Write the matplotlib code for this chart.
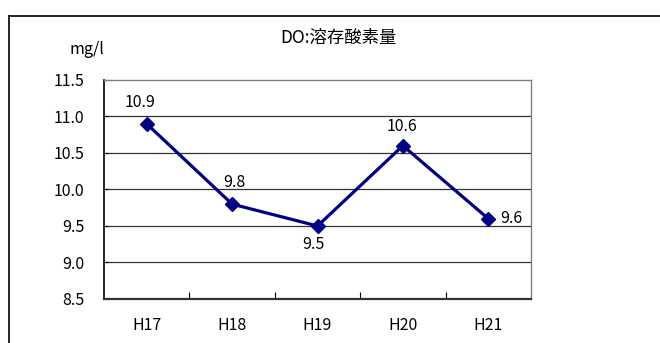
import matplotlib
matplotlib.use("Agg")
import matplotlib.pyplot as plt
from matplotlib.lines import Line2D
from matplotlib.ticker import FixedLocator

plt.rcParams['font.family'] = ['Noto Sans CJK JP', 'DejaVu Sans']

years = ["H17", "H18", "H19", "H20", "H21"]
do_values = [10.9, 9.8, 9.5, 10.6, 9.6]
y_ticks = [8.5, 9.0, 9.5, 10.0, 10.5, 11.0, 11.5]
title = "DO:溶存酸素量"
unit = "mg/l"

W, H = 660, 343
fig = plt.figure(figsize=(W / 100, H / 100), dpi=100)

# outer chart frame (top and left edges visible)
fig.add_artist(Line2D([8.5 / W, 8.5 / W], [0, 1 - 15.5 / H], transform=fig.transFigure,
                      color="black", lw=1.2))
fig.add_artist(Line2D([8.5 / W, 1], [1 - 15.5 / H, 1 - 15.5 / H], transform=fig.transFigure,
                      color="black", lw=1.2))

ax = fig.add_axes([104 / W, (H - 299) / H, (531 - 104) / W, (299 - 80) / H])

x = list(range(len(years)))
navy = "#000080"
ax.plot(x, do_values, color=navy, lw=2.3, marker="D", markersize=7, zorder=3)

fs = 11.5
ax.set_xlim(-0.5, len(years) - 0.5)
ax.set_ylim(y_ticks[0], y_ticks[-1])
ax.set_yticks(y_ticks)
ax.set_yticklabels([f"{v:.1f}" for v in y_ticks], fontsize=fs)
ax.set_xticks(x)
ax.set_xticklabels(years, fontsize=fs)
ax.xaxis.set_minor_locator(FixedLocator([i + 0.5 for i in range(len(years) - 1)]))

ax.tick_params(axis="x", which="major", length=0, pad=13)
ax.tick_params(axis="x", which="minor", direction="in", length=5, width=0.8, color="black")
ax.tick_params(axis="y", direction="in", length=3, width=0.8, pad=14)

for y in y_ticks[1:-1]:
    ax.axhline(y, color="#333333", lw=0.9, zorder=1)

ax.spines["left"].set_color("black")
ax.spines["left"].set_linewidth(1.2)
ax.spines["bottom"].set_color("#333333")
ax.spines["bottom"].set_linewidth(1.6)
ax.spines["top"].set_color("#808080")
ax.spines["top"].set_linewidth(1.0)
ax.spines["right"].set_color("#808080")
ax.spines["right"].set_linewidth(1.0)

# value labels
offsets = [(-7, 21), (2, 22), (-4, -19), (-1, 19), (23, 0)]
for xi, v, (dx, dy) in zip(x, do_values, offsets):
    ax.annotate(f"{v:.1f}", (xi, v), xytext=(dx * 0.72, dy * 0.72), textcoords="offset points",
                ha="center", va="center", fontsize=fs)

fig.text(338 / W, 1 - 38 / H, title, ha="center", va="center", fontsize=12.5)
fig.text(87 / W, 1 - 50 / H, unit, ha="center", va="center", fontsize=fs)

fig.savefig("out.png", dpi=100)
